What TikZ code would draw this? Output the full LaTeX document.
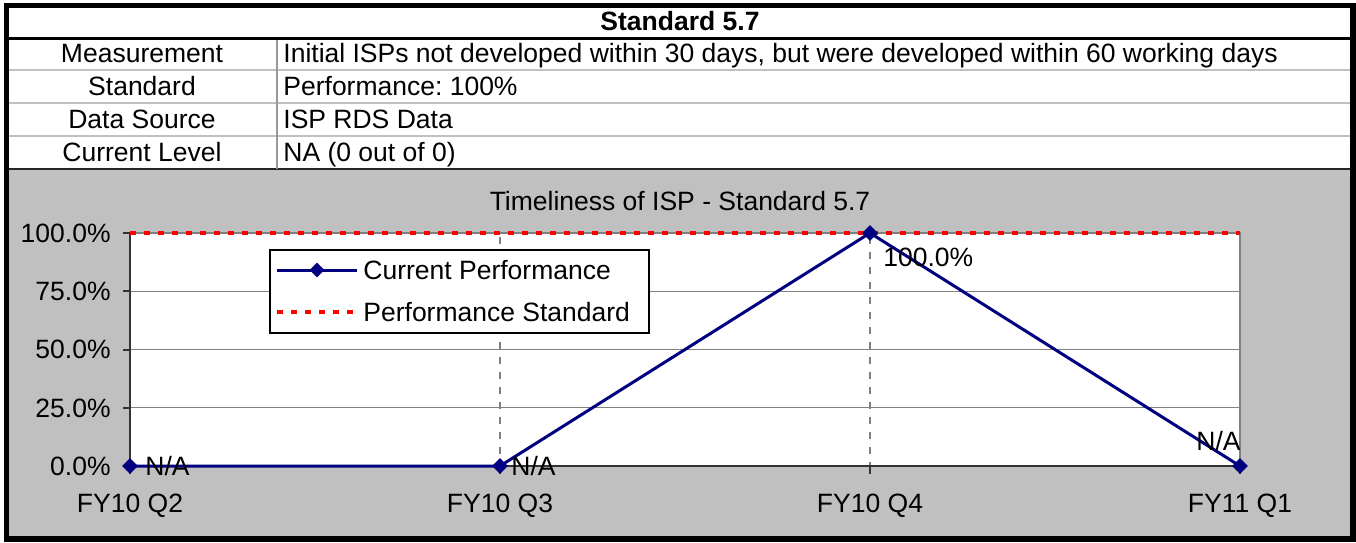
\documentclass[tikz,border=0pt]{standalone}
\usepackage{fontspec}
\setmainfont{Liberation Sans}
\usetikzlibrary{shapes.geometric}
\definecolor{navyline}{HTML}{000080}
\definecolor{panel}{HTML}{C0C0C0}
\definecolor{gridgray}{HTML}{808080}
\definecolor{rowline}{HTML}{C0C0C0}
\frenchspacing
\tikzset{
  txt/.style={inner sep=0pt, text height=9.4pt, text depth=0pt, font=\fontsize{13.25}{15.9}\selectfont},
  rowrule/.style={draw=rowline, line width=1pt},
  gridrule/.style={draw=gridgray, line width=0.55pt},
  dropline/.style={draw=gridgray, line width=1.3pt, dash pattern=on 3.5pt off 4pt},
  stdline/.style={draw=red, line width=1.7pt, dash pattern=on 3pt off 4pt},
  perfline/.style={draw=navyline, line width=1.5pt},
  marker/.style={diamond, fill=navyline, inner sep=0pt, minimum size=8pt},
  ticks/.style={draw=black!80, line width=1pt}
}
\begin{document}
\begin{tikzpicture}[x=0.5pt,y=-0.5pt]
\useasboundingbox (0,0) rectangle (1356,542);

% table and chart backgrounds
\fill[white] (6,5) rectangle (1353,169);
\fill[panel] (6,169) rectangle (1353,539);

% table rules
\draw[rowrule] (9,70) -- (1350,70);
\draw[rowrule] (9,103) -- (1350,103);
\draw[rowrule] (9,136) -- (1350,136);
\draw[draw=black!85, line width=0.8pt] (9,169) -- (1350,169);
\draw[draw=black!40, line width=1pt] (277,40) -- (277,169);
\draw[line width=1.5pt] (9,38.5) -- (1350,38.5);

% table text
\node[txt, font=\fontsize{13.25}{15.9}\selectfont\bfseries] (title) at (680,21) {Standard 5.7};
\node[txt] (k1) at (142,53) {Measurement};
\node[txt] (k2) at (142,86) {Standard};
\node[txt] (k3) at (142,119) {Data Source};
\node[txt] (k4) at (142,152) {Current Level};
\node[txt, anchor=west] (v1) at (283,53) {Initial ISPs not developed within 30 days, but were developed within 60 working days};
\node[txt, anchor=west] (v2) at (283,86) {Performance: 100\%};
\node[txt, anchor=west] (v3) at (283,119) {ISP RDS Data};
\node[txt, anchor=west] (v4) at (283,152) {NA (0 out of 0)};

% chart
\node[txt] (ctitle) at (680,201) {Timeliness of ISP - Standard 5.7};
\fill[white] (130,233) rectangle (1240,466);
\draw[gridrule] (130,291.25) -- (1240,291.25);
\draw[gridrule] (130,349.5) -- (1240,349.5);
\draw[gridrule] (130,407.75) -- (1240,407.75);
\draw[dropline] (500,237) -- (500,466);
\draw[dropline] (870,237) -- (870,466);
\draw[draw=gridgray, line width=1pt] (130,233) -- (1240,233) -- (1240,466);

% axes
\draw[ticks] (130,233) -- (130,466) -- (1240,466);
\foreach \yy in {233,291.25,349.5,407.75,466} \draw[ticks] (123,\yy) -- (130,\yy);
\foreach \xx in {130,500,870,1240} \draw[ticks] (\xx,466) -- (\xx,474);

% axis labels
\node[txt, anchor=east] (y100) at (111,233) {100.0\%};
\node[txt, anchor=east] (y75) at (111,291.25) {75.0\%};
\node[txt, anchor=east] (y50) at (111,349.5) {50.0\%};
\node[txt, anchor=east] (y25) at (111,407.75) {25.0\%};
\node[txt, anchor=east] (y0) at (111,466) {0.0\%};
\node[txt] (x1) at (130,503) {FY10 Q2};
\node[txt] (x2) at (500,503) {FY10 Q3};
\node[txt] (x3) at (870,503) {FY10 Q4};
\node[txt] (x4) at (1240,503) {FY11 Q1};

% standard line
\coordinate (s1) at (130,233);
\coordinate (s2) at (1240,233);
\draw[stdline] (s1) -- (s2);

% performance series
\coordinate (c1) at (130,466);
\coordinate (c2) at (500,466);
\coordinate (c3) at (870,233);
\coordinate (c4) at (1240,466);
\draw[perfline] (c1) -- (c2) -- (c3) -- (c4);
\node[marker] (p1) at (c1) {};
\node[marker] (p2) at (c2) {};
\node[marker] (p3) at (c3) {};
\node[marker] (p4) at (c4) {};

% data labels
\node[txt, anchor=west] (d1) at (145,466) {N/A};
\node[txt, anchor=west] (d2) at (511,466) {N/A};
\node[txt, anchor=west] (d3) at (883,257) {100.0\%};
\node[txt, anchor=east] (d4) at (1241,441) {N/A};

% legend
\draw[fill=white, line width=0.6pt] (270,250) rectangle (649,333);
\coordinate (la) at (277,270);
\coordinate (lb) at (357,270);
\coordinate (lc) at (277,312);
\coordinate (ld) at (357,312);
\draw[perfline] (la) -- (lb);
\node[marker, minimum size=7.5pt] (lm) at (317,270) {};
\draw[stdline] (lc) -- (ld);
\node[txt, anchor=west] (l1) at (363,270) {Current Performance};
\node[txt, anchor=west] (l2) at (363,312) {Performance Standard};

% outer frame
\draw[line width=2.8pt] (6.5,5.5) rectangle (1353,539);
\end{tikzpicture}
\end{document}
